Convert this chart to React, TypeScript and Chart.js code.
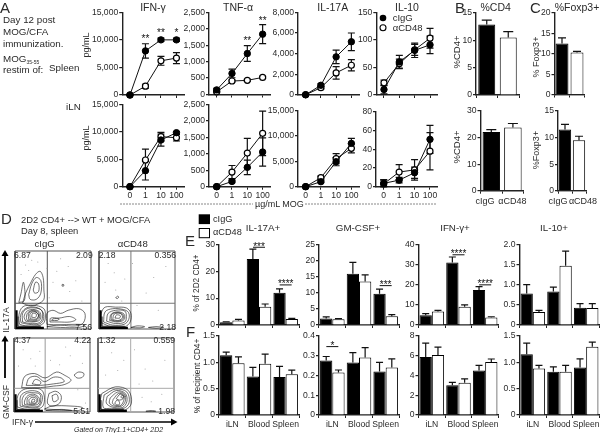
import React, { useEffect, useRef } from "react";
import { Chart, registerables } from "chart.js";

Chart.register(...registerables);
Chart.defaults.font.family = "'Liberation Sans', Arial, sans-serif";
Chart.defaults.color = "#2a2a2a";

// ---------- data ----------
const doses = ["0", "1", "10", "100"];
const tissues = ["iLN", "Blood", "Spleen"];
const abs = ["cIgG", "αCD48"];

const spleenIfnIgG = [0, 8000, 10000, 10000];
const spleenIfnIgGErr = [0, 1300, 300, 300];
const spleenIfnCd48 = [0, 1600, 6200, 6700];
const spleenIfnCd48Err = [100, 350, 800, 1000];

const spleenTnfIgG = [140, 640, 1245, 1835];
const spleenTnfIgGErr = [50, 130, 240, 290];
const spleenTnfCd48 = [80, 410, 430, 520];
const spleenTnfCd48Err = [20, 30, 30, 30];

const spleenIl17IgG = [30, 940, 3690, 5150];
const spleenIl17IgGErr = [20, 150, 650, 850];
const spleenIl17Cd48 = [20, 710, 2140, 2880];
const spleenIl17Cd48Err = [10, 120, 600, 550];

const spleenIl10IgG = [10, 60, 81, 91];
const spleenIl10IgGErr = [8, 12, 13, 16];
const spleenIl10Cd48 = [22, 57, 82, 103];
const spleenIl10Cd48Err = [5, 8, 10, 18];

const ilnIfnIgG = [0, 2930, 8540, 9880];
const ilnIfnIgGErr = [0, 1700, 1100, 200];
const ilnIfnCd48 = [0, 4880, 9150, 8960];
const ilnIfnCd48Err = [0, 2000, 800, 600];

const ilnTnfIgG = [0, 160, 590, 1057];
const ilnTnfIgGErr = [0, 40, 220, 430];
const ilnTnfCd48 = [0, 447, 1026, 1626];
const ilnTnfCd48Err = [0, 200, 450, 680];

const ilnIl17IgG = [0, 990, 4930, 8550];
const ilnIl17IgGErr = [0, 200, 800, 1000];
const ilnIl17Cd48 = [0, 1780, 5530, 7570];
const ilnIl17Cd48Err = [0, 300, 1000, 900];

const ilnIl10IgG = [3.6, 7, 15, 50.7];
const ilnIl10IgGErr = [4, 3, 6, 15];
const ilnIl10Cd48 = [3, 15.7, 18, 38];
const ilnIl10Cd48Err = [4, 8, 11, 20];

const cd4Spleen = [12.9, 10.5];
const cd4SpleenErr = [0.8, 1.1];
const foxp3Spleen = [12.5, 10.3];
const foxp3SpleenErr = [1.4, 0.3];
const cd4Iln = [22.1, 23.8];
const cd4IlnErr = [0.9, 1.5];
const foxp3Iln = [11.5, 9.5];
const foxp3IlnErr = [1, 0.75];

const e17IgG = [1, 24.5, 12];
const e17IgGErr = [0.2, 3.7, 1.4];
const e17Cd48 = [1.7, 6.8, 2.2];
const e17Cd48Err = [0.4, 1, 0.3];
const eGmIgG = [2, 15.9, 9.7];
const eGmIgGErr = [0.5, 3.5, 1.4];
const eGmCd48 = [1.8, 13.5, 2.7];
const eGmCd48Err = [0.2, 2, 0.5];
const eIfnIgG = [4.8, 31, 17.3];
const eIfnIgGErr = [0.8, 2.7, 1.7];
const eIfnCd48 = [6.7, 9, 3.7];
const eIfnCd48Err = [0.5, 1, 0.4];
const eIl10IgG = [0.78, 0.83, 0.43];
const eIl10IgGErr = [0.22, 0.11, 0.1];
const eIl10Cd48 = [0.32, 1.47, 0.42];
const eIl10Cd48Err = [0.04, 0.36, 0.11];

const f17IgG = [1.13, 0.73, 0.72];
const f17IgGErr = [0.06, 0.17, 0.2];
const f17Cd48 = [0.98, 0.97, 0.77];
const f17Cd48Err = [0.12, 0.18, 0.08];
const fGmIgG = [0.275, 0.265, 0.22];
const fGmIgGErr = [0.02, 0.05, 0.045];
const fGmCd48 = [0.215, 0.29, 0.24];
const fGmCd48Err = [0.012, 0.05, 0.043];
const fIfnIgG = [5.85, 3, 4.5];
const fIfnIgGErr = [1.4, 0.3, 0.5];
const fIfnCd48 = [6.05, 3.25, 5.35];
const fIfnCd48Err = [0.8, 0.4, 0.3];
const fIl10IgG = [1.15, 0.82, 0.9];
const fIl10IgGErr = [0.21, 0.09, 0.16];
const fIl10Cd48 = [0.88, 0.82, 1.29];
const fIl10Cd48Err = [0.06, 0.12, 0.09];

type Pt = number[];

const lowBand: Pt[] = [[38, 1.5], [2, 1.5], [2, 24]];
const lowBandOuter: Pt[] = [[34, 3.5], [4, 3.5], [4, 16]];

const flowIl17IgG: Pt[][] = [
  [[6, 6], [14, 4], [30, 4], [38, 8], [40, 18], [38, 26], [28, 30], [14, 30], [8, 26], [5, 16], [6, 6]],
  [[8, 8], [18, 6], [31, 6], [37, 11], [37, 21], [30, 27], [18, 28], [10, 23], [7, 15], [8, 8]],
  [[10, 9], [20, 7], [32, 8], [36, 14], [35, 24], [26, 27], [16, 26], [10, 20], [10, 9]],
  [[14, 10], [24, 9], [33, 12], [33, 21], [25, 25], [16, 23], [12, 16], [14, 10]],
  [[16, 11], [26, 10], [32, 14], [31, 21], [24, 24], [17, 21], [15, 15], [16, 11]],
  [[18, 12], [27, 11.5], [31, 16], [29, 21], [23, 23], [18, 20], [18, 12]],
  [[20, 13], [28, 13], [31, 18], [26, 22], [20, 20], [20, 13]],
  [[22, 15], [27, 15], [28, 19], [23, 20], [22, 15]],
  [[10, 33], [14, 46], [20, 58], [27, 70], [33, 74], [37, 66], [38, 50], [38, 38], [30, 32], [20, 30], [10, 33]],
  [[18, 44], [22, 58], [28, 66], [34, 62], [34, 46], [28, 38], [20, 38], [18, 44]],
  [[24, 50], [27, 60], [31, 58], [31, 48], [26, 46], [24, 50]],
  [[5, 34], [8, 46], [11, 60], [13, 48], [12, 36], [5, 34]],
  [[62, 55], [64, 55], [64, 57], [62, 57], [62, 55]],
  [[42, 6], [60, 5], [80, 4], [90, 8], [92, 20], [84, 26], [70, 24], [60, 20], [50, 24], [42, 20], [42, 6]],
  [[46, 9], [58, 9], [72, 9], [80, 12], [72, 16], [58, 14], [47, 14], [46, 9]],
  [[42, 3], [60, 2], [84, 2], [92, 5], [80, 6], [55, 5], [42, 3]],
  [[48, 11], [56, 11], [58, 13], [50, 13], [48, 11]],
];
const flowIl17Cd48: Pt[][] = [
  [[3, 8], [16, 3], [34, 3], [41, 9], [42, 20], [36, 27], [22, 28], [8, 28], [3, 20], [3, 8]],
  [[6, 9], [18, 5], [33, 6], [39, 12], [39, 21], [32, 25], [18, 26], [8, 22], [6, 9]],
  [[10, 10], [22, 7], [34, 9], [36, 16], [34, 23], [22, 24], [12, 20], [10, 10]],
  [[14, 11], [24, 9], [33, 12], [33, 19], [25, 22], [16, 19], [14, 11]],
  [[16, 11.5], [25, 10], [32, 13.5], [31, 19], [24, 21], [17, 19], [16, 11.5]],
  [[18, 12], [26, 11], [31, 15], [28, 20], [20, 19], [18, 12]],
  [[21, 14], [27, 14], [28, 17], [23, 18], [21, 14]],
  [[65, 2], [75, 3], [85, 2], [75, 1], [65, 2]],
  [[42, 2], [54, 1.5], [60, 3], [50, 4], [42, 2]],
  [[22, 40], [24, 42], [26, 41], [24, 39], [22, 40]],
];
const flowGmIgG: Pt[][] = [
  [[4, 7], [14, 4], [30, 4], [38, 8], [40, 20], [36, 30], [24, 32], [12, 30], [5, 22], [4, 7]],
  [[8, 8], [18, 6], [31, 6], [36, 12], [37, 22], [30, 28], [18, 28], [9, 22], [8, 8]],
  [[11, 9], [20, 7], [32, 8], [35, 15], [34, 24], [26, 26], [16, 25], [11, 18], [11, 9]],
  [[14, 10], [24, 9], [32, 11], [33, 19], [26, 24], [18, 22], [14, 15], [14, 10]],
  [[17, 11], [26, 10], [31, 14], [30, 20], [24, 22], [18, 19], [17, 11]],
  [[20, 12], [28, 12], [30, 17], [25, 20], [20, 17], [20, 12]],
  [[23, 13], [27, 14], [27, 17], [24, 17], [23, 13]],
  [[10, 33], [14, 48], [27, 52], [41, 46], [56, 54], [66, 50], [75, 43], [66, 37], [52, 35], [35, 33], [10, 33]],
  [[16, 36], [20, 46], [30, 48], [40, 41], [52, 47], [62, 46], [66, 41], [52, 38], [35, 36], [16, 36]],
  [[24, 38], [28, 44], [35, 41], [34, 37], [24, 38]],
  [[79, 50], [85, 54], [92, 52], [90, 47], [83, 46], [79, 50]],
  [[46, 25], [55, 28], [62, 22], [60, 12], [50, 8], [44, 12], [46, 25]],
  [[50, 22], [56, 24], [58, 17], [52, 14], [50, 22]],
  [[40, 4], [60, 3], [85, 2], [90, 6], [75, 8], [50, 8], [40, 4]],
  [[42, 2], [60, 1.5], [76, 2], [62, 3.5], [42, 2]],
];
const flowGmCd48: Pt[][] = [
  [[5, 25], [23, 34], [40, 29], [44, 12], [36, 3], [20, 3], [5, 3], [3, 14], [5, 25]],
  [[8, 23], [23, 31], [38, 27], [41, 13], [34, 5], [18, 5], [7, 6], [8, 23]],
  [[12, 21], [24, 29], [36, 25], [38, 14], [32, 6], [18, 7], [11, 12], [12, 21]],
  [[16, 19], [26, 27], [35, 24], [36, 15], [31, 8], [21, 8], [15, 12], [16, 19]],
  [[20, 17], [27, 25], [34, 23], [34, 16], [30, 9], [23, 9], [19, 12], [20, 17]],
  [[24, 18], [29, 24], [33, 22], [33, 18], [28, 16], [24, 18]],
  [[22, 12], [25, 16], [28, 14], [28, 10], [24, 10], [22, 12]],
  [[30, 20], [32, 23], [34, 21], [32, 19], [30, 20]],
  [[63, 1], [70, 2], [76, 1], [70, 0.8], [63, 1]],
];

const flowDotsIl17IgG = [[8, 70], [14, 82], [22, 88], [45, 40], [50, 60], [55, 74], [72, 48], [80, 62], [88, 36], [60, 90], [30, 86], [70, 80], [42, 78], [18, 75]];
const flowDotsIl17Cd48 = [[8, 60], [22, 50], [30, 36], [20, 72], [34, 64], [50, 30], [62, 46], [78, 24], [72, 66], [88, 80], [44, 84], [12, 84]];
const flowDotsGmIgG = [[6, 62], [22, 72], [34, 82], [12, 84], [48, 70], [60, 64], [74, 76], [90, 66], [68, 88], [28, 62], [84, 30], [94, 12]];
const flowDotsGmCd48 = [[10, 50], [26, 56], [34, 70], [54, 38], [62, 58], [72, 42], [84, 24], [88, 70], [18, 80], [48, 84], [70, 14], [58, 20]];

// ---------- plugins ----------
const errorPlugin = {
  id: "errorBars",
  beforeDatasetsDraw(chart: any) {
    const { ctx } = chart;
    const yScale = chart.scales.y;
    chart.data.datasets.forEach((ds: any, i: number) => {
      if (!ds.err) return;
      const meta = chart.getDatasetMeta(i);
      ctx.save();
      ctx.strokeStyle = "#111";
      ctx.lineWidth = 1.2;
      ds.err.forEach((e: number, j: number) => {
        const x = meta.data[j].x;
        const v = ds.data[j];
        const hi = yScale.getPixelForValue(v + e);
        const lo = ds.both ? yScale.getPixelForValue(Math.max(v - e, 0)) : yScale.getPixelForValue(v);
        const cap = ds.capHalf;
        ctx.beginPath();
        ctx.moveTo(x, hi);
        ctx.lineTo(x, lo);
        ctx.moveTo(x - cap, hi);
        ctx.lineTo(x + cap, hi);
        if (ds.both) {
          ctx.moveTo(x - cap, lo);
          ctx.lineTo(x + cap, lo);
        }
        ctx.stroke();
      });
      ctx.restore();
    });
  },
  afterDraw(chart: any) {
    const marks = chart.options.plugins.errorBars?.marks || [];
    const { ctx } = chart;
    marks.forEach((m: any) => {
      const x = chart.scales.x.getPixelForValue(m.cat);
      const y = chart.scales.y.getPixelForValue(m.y);
      ctx.save();
      ctx.fillStyle = "#111";
      ctx.font = "10px 'Liberation Sans'";
      ctx.textAlign = "center";
      ctx.textBaseline = "alphabetic";
      if (m.line) {
        ctx.strokeStyle = "#111";
        ctx.lineWidth = 1;
        ctx.beginPath();
        ctx.moveTo(x - 6, y);
        ctx.lineTo(x + 6, y);
        ctx.stroke();
        ctx.fillText(m.text, x, y + 2.5);
      } else {
        ctx.fillText(m.text, x, y + 5);
      }
      ctx.restore();
    });
  },
};

const Y_W = 40;
const PAD_R = 12;
const PAD_T = 10;

function axes(yMax: number, yStep: number, showX: boolean, xH: number, fs: number, yw: number) {
  const border = { color: "#222", width: 1.4 };
  return {
    x: {
      offset: true,
      border,
      grid: { display: true, drawOnChartArea: false, drawTicks: true, tickLength: 3, color: "#222", lineWidth: 1 },
      ticks: { display: showX, font: { size: fs }, padding: 1, maxRotation: 0, autoSkip: false },
      afterFit: (s: any) => { s.height = xH; },
    },
    y: {
      min: 0,
      max: yMax,
      border,
      grid: { display: true, drawOnChartArea: false, drawTicks: true, tickLength: 3, color: "#222", lineWidth: 1.2 },
      ticks: { stepSize: yStep, font: { size: fs }, padding: 1 },
      afterFit: (s: any) => { s.width = yw; },
    },
  };
}

type PanelProps = {
  kind: "line" | "bar";
  left: number;
  right: number;
  top: number;
  bottom: number;
  yMax: number;
  yStep: number;
  labels: string[];
  a: number[];
  aErr: number[];
  b?: number[];
  bErr?: number[];
  showX?: boolean;
  cat?: number;
  capHalf?: number;
  marks?: any[];
};

function Panel(p: PanelProps) {
  const ref = useRef<HTMLCanvasElement>(null);
  const xH = p.showX ? 16 : 8;
  const cLeft = Math.floor(p.left - Y_W);
  const cTop = Math.floor(p.top - PAD_T);
  const yw = p.left - cLeft;
  const padT = p.top - cTop;
  const w = Math.ceil(yw + (p.right - p.left) + PAD_R);
  const h = Math.ceil(padT + (p.bottom - p.top) + xH);
  const padR = w - yw - (p.right - p.left);
  const padB = h - padT - (p.bottom - p.top) - xH;
  useEffect(() => {
    const isLine = p.kind === "line";
    const common = { clip: false as any, both: isLine, capHalf: p.capHalf ?? 3.5 };
    const single = !p.b;
    const datasets: any[] = isLine
      ? [
          { ...common, label: abs[0], data: p.a, err: p.aErr, borderColor: "#111", backgroundColor: "#000", pointBackgroundColor: "#000", pointBorderColor: "#000", pointRadius: 3.2, pointBorderWidth: 1, borderWidth: 1 },
          { ...common, label: abs[1], data: p.b, err: p.bErr, borderColor: "#111", backgroundColor: "#fff", pointBackgroundColor: "#fff", pointBorderColor: "#000", pointRadius: 3, pointBorderWidth: 1.2, borderWidth: 1 },
        ]
      : single
      ? [{ ...common, label: "%", data: p.a, err: p.aErr, backgroundColor: ["#000", "#fff"], borderColor: "#000", borderWidth: 1, categoryPercentage: 1, barPercentage: p.cat ?? 0.8 }]
      : [
          { ...common, label: abs[0], data: p.a, err: p.aErr, backgroundColor: "#000", borderColor: "#000", borderWidth: 1, categoryPercentage: p.cat ?? 0.92, barPercentage: 1 },
          { ...common, label: abs[1], data: p.b, err: p.bErr, backgroundColor: "#fff", borderColor: "#000", borderWidth: 1, categoryPercentage: p.cat ?? 0.92, barPercentage: 1 },
        ];
    const chart = new Chart(ref.current as any, {
      type: p.kind,
      data: { labels: p.labels, datasets },
      plugins: [errorPlugin],
      options: {
        responsive: false,
        animation: false,
        devicePixelRatio: 1,
        layout: { padding: { left: 0, right: padR, top: padT, bottom: padB } },
        plugins: { legend: { display: false }, title: { display: false }, tooltip: { enabled: false }, errorBars: { marks: p.marks || [] } },
        scales: axes(p.yMax, p.yStep, !!p.showX, xH, 8.6, yw) as any,
      } as any,
    });
    return () => chart.destroy();
  }, []);
  return (
    <canvas
      ref={ref}
      width={w}
      height={h}
      style={{ position: "absolute", left: cLeft, top: cTop, width: w, height: h }}
    />
  );
}

type FlowProps = {
  x: number; y: number; w: number; h: number;
  vLine: number; hLine: number; loops: Pt[][]; dots: number[][]; quadColor: string;
};

const toXY = (pts: number[][]) => pts.map(([x, y]) => ({ x, y }));

function Flow(p: FlowProps) {
  const ref = useRef<HTMLCanvasElement>(null);
  const pad = 2;
  useEffect(() => {
    const datasets: any[] = [
      { data: toXY(lowBand), showLine: true, borderColor: "#000", borderWidth: 2.2, pointRadius: 0 },
      { data: toXY(lowBandOuter), showLine: true, borderColor: "#222", borderWidth: 1, pointRadius: 0 },
      ...p.loops.map((l) => ({ data: toXY(l), showLine: true, borderColor: "#111", borderWidth: 0.6, tension: 0.35, pointRadius: 0 })),
      { data: toXY(p.dots), showLine: false, pointRadius: 0.5, pointBackgroundColor: "#999", pointBorderWidth: 0 },
      { data: toXY([[p.vLine, 0], [p.vLine, 100]]), showLine: true, borderColor: p.quadColor, borderWidth: 1, pointRadius: 0 },
      { data: toXY([[0, p.hLine], [100, p.hLine]]), showLine: true, borderColor: p.quadColor, borderWidth: 1, pointRadius: 0 },
      { data: toXY([[0, 0], [100, 0], [100, 100], [0, 100], [0, 0]]), showLine: true, clip: false, borderColor: "#555", borderWidth: 1, pointRadius: 0 },
    ];
    const chart = new Chart(ref.current as any, {
      type: "scatter",
      data: { datasets },
      options: {
        responsive: false,
        animation: false,
        devicePixelRatio: 1,
        layout: { padding: pad },
        plugins: { legend: { display: false }, tooltip: { enabled: false } },
        scales: { x: { display: false, min: 0, max: 100 }, y: { display: false, min: 0, max: 100 } },
      } as any,
    });
    return () => chart.destroy();
  }, []);
  return (
    <canvas
      ref={ref}
      width={p.w + pad * 2}
      height={p.h + pad * 2}
      style={{ position: "absolute", left: p.x - pad, top: p.y - pad, width: p.w + pad * 2, height: p.h + pad * 2 }}
    />
  );
}

// ---------- text helpers ----------
function T(props: { x: number; y: number; s?: number; a?: "l" | "c" | "r"; rot?: boolean; it?: boolean; children: any }) {
  const { x, y, s = 9, a = "l", rot, it, children } = props;
  const tx = rot ? "-50%" : a === "l" ? "0" : a === "c" ? "-50%" : "-100%";
  return (
    <div
      style={{
        position: "absolute",
        left: x,
        top: y,
        fontSize: s,
        lineHeight: 1,
        whiteSpace: "nowrap",
        color: "#2a2a2a",
        fontStyle: it ? "italic" : "normal",
        transform: `translate(${tx}, -50%)` + (rot ? " rotate(-90deg)" : ""),
      }}
    >
      {children}
    </div>
  );
}

const barLeftA = [219, 319, 418.5, 519.5];
const barTitles = ["IL-17A+", "GM-CSF+", "IFN-γ+", "IL-10+"];

export default function App() {
  return (
    <div
      style={{
        position: "fixed",
        left: 0,
        top: 0,
        width: 600,
        height: 433,
        background: "#fff",
        overflow: "hidden",
        fontFamily: "'Liberation Sans', Arial, sans-serif",
      }}
    >
      {/* A spleen row */}
      <Panel kind="line" left={122.2} right={184.2} top={12.3} bottom={95} yMax={15000} yStep={5000} labels={doses} a={spleenIfnIgG} aErr={spleenIfnIgGErr} b={spleenIfnCd48} bErr={spleenIfnCd48Err}
        marks={[{ cat: 1, y: 10570, text: "**" }, { cat: 2, y: 11660, text: "**" }, { cat: 3, y: 11660, text: "*" }]} />
      <Panel kind="line" left={209} right={270.3} top={12.3} bottom={94.5} yMax={2500} yStep={500} labels={doses} a={spleenTnfIgG} aErr={spleenTnfIgGErr} b={spleenTnfCd48} bErr={spleenTnfCd48Err}
        marks={[{ cat: 2, y: 1680, text: "**" }, { cat: 3, y: 2295, text: "**" }]} />
      <Panel kind="line" left={298} right={359} top={12.3} bottom={95} yMax={8000} yStep={2000} labels={doses} a={spleenIl17IgG} aErr={spleenIl17IgGErr} b={spleenIl17Cd48} bErr={spleenIl17Cd48Err} />
      <Panel kind="line" left={376.3} right={437.7} top={12.3} bottom={95} yMax={150} yStep={50} labels={doses} a={spleenIl10IgG} aErr={spleenIl10IgGErr} b={spleenIl10Cd48} bErr={spleenIl10Cd48Err} />
      {/* A iLN row */}
      <Panel kind="line" left={122.2} right={184.2} top={104.7} bottom={186.7} yMax={15000} yStep={5000} labels={doses} showX a={ilnIfnIgG} aErr={ilnIfnIgGErr} b={ilnIfnCd48} bErr={ilnIfnCd48Err} />
      <Panel kind="line" left={209} right={270.3} top={104.7} bottom={186.7} yMax={2500} yStep={500} labels={doses} showX a={ilnTnfIgG} aErr={ilnTnfIgGErr} b={ilnTnfCd48} bErr={ilnTnfCd48Err} />
      <Panel kind="line" left={298} right={359} top={110.7} bottom={186.7} yMax={15000} yStep={5000} labels={doses} showX a={ilnIl17IgG} aErr={ilnIl17IgGErr} b={ilnIl17Cd48} bErr={ilnIl17Cd48Err} />
      <Panel kind="line" left={376} right={437.7} top={112} bottom={186.7} yMax={80} yStep={20} labels={doses} showX a={ilnIl10IgG} aErr={ilnIl10IgGErr} b={ilnIl10Cd48} bErr={ilnIl10Cd48Err} />
      {/* B, C */}
      <Panel kind="bar" left={476} right={519} top={13} bottom={95} yMax={15} yStep={5} labels={abs} a={cd4Spleen} aErr={cd4SpleenErr} cat={0.79} capHalf={5} />
      <Panel kind="bar" left={554.5} right={584.5} top={13} bottom={94.5} yMax={20} yStep={5} labels={abs} a={foxp3Spleen} aErr={foxp3SpleenErr} cat={0.86} capHalf={4} />
      <Panel kind="bar" left={480.5} right={523.7} top={111} bottom={190.7} yMax={30} yStep={10} labels={abs} a={cd4Iln} aErr={cd4IlnErr} cat={0.81} capHalf={5} />
      <Panel kind="bar" left={558} right={586} top={111} bottom={190.7} yMax={15} yStep={5} labels={abs} a={foxp3Iln} aErr={foxp3IlnErr} cat={0.88} capHalf={4} />
      {/* E */}
      <Panel kind="bar" left={barLeftA[0]} right={barLeftA[0] + 80} top={244.3} bottom={325} yMax={30} yStep={10} labels={tissues} a={e17IgG} aErr={e17IgGErr} b={e17Cd48} bErr={e17Cd48Err}
        marks={[{ cat: 1, y: 28.9, text: "***", line: true }, { cat: 2, y: 14.9, text: "****", line: true }]} />
      <Panel kind="bar" left={barLeftA[1]} right={barLeftA[1] + 80} top={244.3} bottom={325} yMax={25} yStep={5} labels={tissues} a={eGmIgG} aErr={eGmIgGErr} b={eGmCd48} bErr={eGmCd48Err}
        marks={[{ cat: 2, y: 12.2, text: "***", line: true }]} />
      <Panel kind="bar" left={barLeftA[2]} right={barLeftA[2] + 80} top={244.3} bottom={325} yMax={40} yStep={10} labels={tissues} a={eIfnIgG} aErr={eIfnIgGErr} b={eIfnCd48} bErr={eIfnCd48Err}
        marks={[{ cat: 1, y: 34.8, text: "****", line: true }, { cat: 2, y: 19.9, text: "****", line: true }]} />
      <Panel kind="bar" left={barLeftA[3]} right={barLeftA[3] + 80} top={244.3} bottom={325} yMax={2} yStep={0.5} labels={tissues} a={eIl10IgG} aErr={eIl10IgGErr} b={eIl10Cd48} bErr={eIl10Cd48Err} />
      {/* F */}
      <Panel kind="bar" left={barLeftA[0]} right={barLeftA[0] + 80} top={335.7} bottom={415} yMax={1.5} yStep={0.5} labels={tissues} showX a={f17IgG} aErr={f17IgGErr} b={f17Cd48} bErr={f17Cd48Err} />
      <Panel kind="bar" left={barLeftA[1]} right={barLeftA[1] + 80} top={335.7} bottom={415} yMax={0.4} yStep={0.1} labels={tissues} showX a={fGmIgG} aErr={fGmIgGErr} b={fGmCd48} bErr={fGmCd48Err}
        marks={[{ cat: 0, y: 0.345, text: "*", line: true }]} />
      <Panel kind="bar" left={barLeftA[2]} right={barLeftA[2] + 80} top={335.7} bottom={415} yMax={8} yStep={2} labels={tissues} showX a={fIfnIgG} aErr={fIfnIgGErr} b={fIfnCd48} bErr={fIfnCd48Err} />
      <Panel kind="bar" left={barLeftA[3]} right={barLeftA[3] + 80} top={335.7} bottom={415} yMax={1.5} yStep={0.5} labels={tissues} showX a={fIl10IgG} aErr={fIl10IgGErr} b={fIl10Cd48} bErr={fIl10Cd48Err} />
      {/* D */}
      <Flow x={13} y={249} w={80} h={82} vLine={42.5} hLine={33} loops={flowIl17IgG} dots={flowDotsIl17IgG} quadColor="#555" />
      <Flow x={97} y={249} w={80} h={82} vLine={42} hLine={33} loops={flowIl17Cd48} dots={flowDotsIl17Cd48} quadColor="#777" />
      <Flow x={12} y={336} w={80} h={78} vLine={41} hLine={32} loops={flowGmIgG} dots={flowDotsGmIgG} quadColor="#999" />
      <Flow x={96} y={336} w={80} h={78} vLine={43} hLine={32} loops={flowGmCd48} dots={flowDotsGmCd48} quadColor="#aaa" />

      {/* drawn furniture */}
      <svg width={600} height={433} style={{ position: "absolute", left: 0, top: 0 }}>
        <line x1={120} x2={253} y1={204} y2={204} stroke="#888" strokeWidth={1} strokeDasharray="2 1" />
        <line x1={305} x2={437} y1={204} y2={204} stroke="#888" strokeWidth={1} strokeDasharray="2 1" />
        <circle cx={383} cy={18} r={3.3} fill="#000" />
        <circle cx={383} cy={27.7} r={3} fill="#fff" stroke="#000" strokeWidth={1.1} />
        <rect x={198.7} y={214.3} width={11.3} height={9.8} fill="#000" />
        <rect x={199.2} y={228.5} width={10.3} height={9.2} fill="#fff" stroke="#000" strokeWidth={1} />
        <line x1={5} x2={5} y1={303} y2={254} stroke="#000" strokeWidth={1.8} />
        <polygon points="5,250 1.5,256 8.5,256" fill="#000" />
        <line x1={5} x2={5} y1={378} y2={339} stroke="#000" strokeWidth={1.8} />
        <polygon points="5,335.5 1.5,341.5 8.5,341.5" fill="#000" />
        <line x1={35} x2={173} y1={422} y2={422} stroke="#000" strokeWidth={1.4} />
        <polygon points="177.5,422 171,418.5 171,425.5" fill="#000" />
      </svg>

      {/* letters */}
      <T x={0} y={7} s={15}>A</T>
      <T x={455} y={7} s={15}>B</T>
      <T x={530} y={7} s={15}>C</T>
      <T x={1} y={218} s={15}>D</T>
      <T x={185} y={240} s={15}>E</T>
      <T x={186} y={331} s={15}>F</T>

      {/* A text */}
      <T x={3} y={20} s={9.8}>Day 12 post</T>
      <T x={3} y={32} s={9.8}>MOG/CFA</T>
      <T x={3} y={44} s={9.8}>immunization.</T>
      <T x={3} y={59} s={9.8}>MOG<sub style={{ fontSize: 5, verticalAlign: "-2px", lineHeight: 0 }}>35-55</sub></T>
      <T x={3} y={70} s={9.8}>restim of:</T>
      <T x={49} y={68} s={9.8}>Spleen</T>
      <T x={66} y={107} s={9.8}>iLN</T>
      <T x={153} y={7} s={10.5} a="c">IFN-γ</T>
      <T x={238} y={7} s={10.5} a="c">TNF-α</T>
      <T x={332.7} y={7} s={10.5} a="c">IL-17A</T>
      <T x={407} y={7} s={10.5} a="c">IL-10</T>
      <T x={495.7} y={7} s={10.5} a="c">%CD4</T>
      <T x={577} y={7} s={10.5} a="c">%Foxp3+</T>
      <T x={392.7} y={18} s={9.5}>{abs[0]}</T>
      <T x={392.7} y={28} s={9.5}>{abs[1]}</T>
      <T x={86} y={45} s={9} rot>pg/mL</T>
      <T x={86} y={138} s={9} rot>pg/mL</T>
      <T x={457} y={52} s={9.5} rot>%CD4+</T>
      <T x={457} y={147} s={9.5} rot>%CD4+</T>
      <T x={536} y={57} s={9} rot>% Foxp3+</T>
      <T x={536} y={150} s={9} rot>%Foxp3+</T>
      <T x={255} y={204} s={9}>µg/mL MOG</T>
      <T x={485} y={200.5} s={9} a="c">{abs[0]}</T>
      <T x={512.4} y={200.5} s={9} a="c">{abs[1]}</T>
      <T x={558} y={200.5} s={9} a="c">{abs[0]}</T>
      <T x={583} y={200.5} s={9} a="c">{abs[1]}</T>

      {/* D text */}
      <T x={21} y={219.7} s={9.4}>2D2 CD4+ --&gt; WT + MOG/CFA</T>
      <T x={21} y={231} s={9.4}>Day 8, spleen</T>
      <T x={44.7} y={244} s={9.6} a="c">{abs[0]}</T>
      <T x={132.7} y={244} s={9.6} a="c">{abs[1]}</T>
      <T x={14} y={255} s={8.6}>6.87</T>
      <T x={92.7} y={255} s={8.6} a="r">2.09</T>
      <T x={92} y={326.7} s={8.6} a="r">7.56</T>
      <T x={98.7} y={255} s={8.6}>2.18</T>
      <T x={176} y={255} s={8.6} a="r">0.356</T>
      <T x={176} y={327} s={8.6} a="r">2.18</T>
      <T x={14} y={340} s={8.6}>4.37</T>
      <T x={91} y={340} s={8.6} a="r">4.22</T>
      <T x={90} y={411} s={8.6} a="r">5.51</T>
      <T x={98.7} y={340} s={8.6}>1.32</T>
      <T x={175} y={340} s={8.6} a="r">0.559</T>
      <T x={175} y={411} s={8.6} a="r">1.98</T>
      <T x={6} y={320} s={8.6} rot>IL-17A</T>
      <T x={6} y={401.7} s={8.6} rot>GM-CSF</T>
      <T x={12} y={421.7} s={8.6}>IFN-γ</T>
      <T x={74} y={429} s={7} it>Gated on Thy1.1+CD4+ 2D2</T>

      {/* E, F text */}
      <T x={213} y={219.6} s={9.2}>{abs[0]}</T>
      <T x={213} y={233} s={9.2}>{abs[1]}</T>
      <T x={263} y={228} s={9.8} a="c">{barTitles[0]}</T>
      <T x={358} y={228} s={9.8} a="c">{barTitles[1]}</T>
      <T x={455} y={228} s={9.8} a="c">{barTitles[2]}</T>
      <T x={554} y={228} s={9.8} a="c">{barTitles[3]}</T>
      <T x={197} y={283} s={8.2} rot>% of 2D2 CD4+</T>
      <T x={197} y={376} s={8.4} rot>% of recipient CD4+</T>
    </div>
  );
}
